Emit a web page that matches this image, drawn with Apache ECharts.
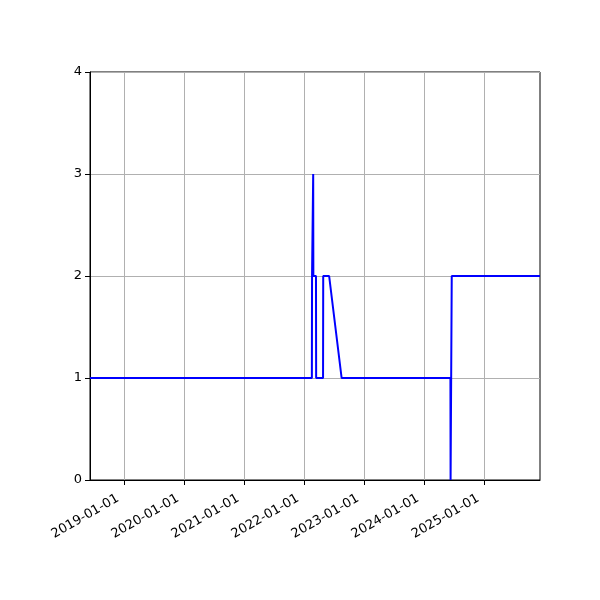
<!DOCTYPE html>
<html>
<head>
<meta charset="utf-8">
<script src="https://cdn.jsdelivr.net/npm/echarts@6/dist/echarts.min.js"></script>
<style>html,body{margin:0;padding:0;background:#fff}#c{width:600px;height:600px}</style>
</head>
<body>
<div id="c"></div>
<script>
// Data
const dates = [
  '2018-06-08', '2022-02-17', '2022-02-18', '2022-02-24', '2022-02-25', '2022-02-26',
  '2022-03-14', '2022-03-15', '2022-04-26', '2022-04-27', '2022-06-02', '2022-08-17',
  '2024-06-09', '2024-06-10', '2024-06-16', '2024-06-17', '2025-12-06'
];
const values = [1, 1, 2, 2, 3, 2, 2, 1, 1, 2, 2, 1, 1, 0, 0, 2, 2];
const xTickLabels = ['2019-01-01', '2020-01-01', '2021-01-01', '2022-01-01', '2023-01-01', '2024-01-01', '2025-01-01'];
const yTicks = [0, 1, 2, 3, 4];
const xMinDate = '2018-06-08';
const xMaxDate = '2025-12-06';

function ts(s) { const p = s.split('-').map(Number); return new Date(p[0], p[1] - 1, p[2]).getTime(); }
function fmt(v) {
  const d = new Date(v);
  const pad = n => String(n).padStart(2, '0');
  return d.getFullYear() + '-' + pad(d.getMonth() + 1) + '-' + pad(d.getDate());
}
const seriesData = dates.map((d, i) => [ts(d), values[i]]);
const xTicks = xTickLabels.map(ts);

const chart = echarts.init(document.getElementById('c'), null, { renderer: 'canvas' });
const font = 'DejaVu Sans';
chart.setOption({
  animation: false,
  backgroundColor: '#fff',
  grid: { left: 90, right: 60, top: 72, bottom: 120, show: true, borderColor: '#000', borderWidth: 1, containLabel: false },
  xAxis: {
    type: 'value',
    min: ts(xMinDate),
    max: ts(xMaxDate),
    scale: true,
    axisLine: { show: true, onZero: false, lineStyle: { color: '#000', width: 1 } },
    axisTick: { show: true, customValues: xTicks, length: 5, lineStyle: { color: '#000' } },
    axisLabel: {
      customValues: xTicks, rotate: 30, color: '#000', fontFamily: font, fontSize: 13, margin: 14,
      padding: [0, 7, 0, 0],
      formatter: v => fmt(v), hideOverlap: false, showMinLabel: true, showMaxLabel: true
    },
    splitLine: { show: true, lineStyle: { color: '#b0b0b0', width: 1 } }
  },
  yAxis: {
    type: 'value',
    min: yTicks[0], max: yTicks[yTicks.length - 1], interval: 1,
    axisLine: { show: true, lineStyle: { color: '#000', width: 1 } },
    axisTick: { show: true, length: 5, lineStyle: { color: '#000' } },
    axisLabel: { color: '#000', fontFamily: font, fontSize: 13, margin: 8 },
    splitLine: { show: true, lineStyle: { color: '#b0b0b0', width: 1 } }
  },
  series: [{
    type: 'line',
    data: seriesData,
    showSymbol: false,
    symbol: 'none',
    clip: true,
    lineStyle: { color: '#0000ff', width: 2 },
    itemStyle: { color: '#0000ff' }
  }]
});
</script>
</body>
</html>
